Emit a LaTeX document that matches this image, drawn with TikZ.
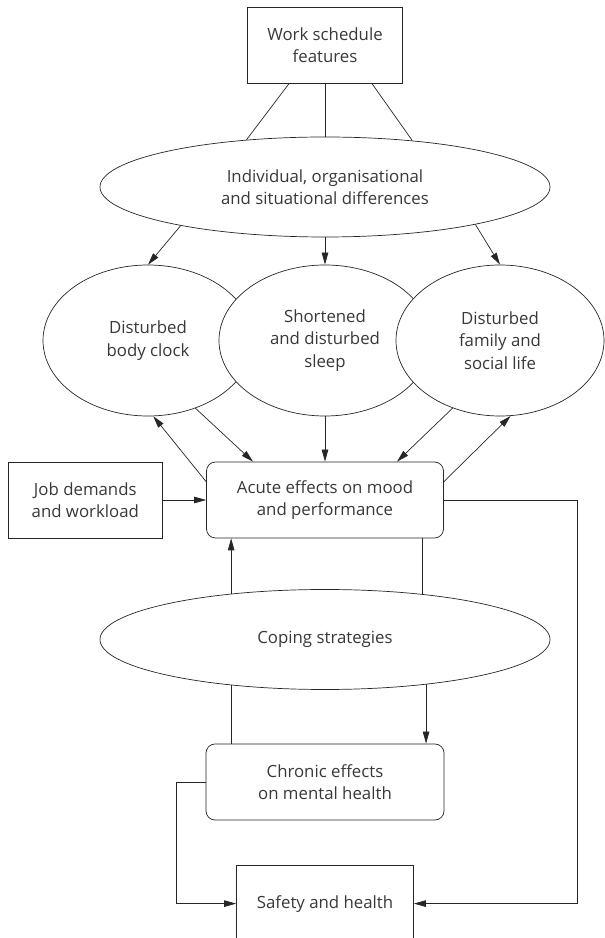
\documentclass[tikz,border=0pt]{standalone}
\usepackage{fontspec}
\setmainfont{Open Sans}
\usetikzlibrary{shapes.geometric,arrows.meta}

\begin{document}
\begin{tikzpicture}[x=1pt, y=1pt, line width=0.7pt, color=black!85,
    every node/.style={font=\fontsize{16.8}{22.5}\selectfont, text=black!78, align=center},
    box/.style={draw, minimum height=76pt, inner sep=0pt},
    rbox/.style={box, rounded corners=9pt},
    oval/.style={draw, ellipse, fill=white, inner sep=0pt},
    arr/.style={-{Triangle[length=12pt, width=6.5pt]}}]

    \useasboundingbox (0,0) rectangle (605,938);
    \clip (0,0) rectangle (605,938);  % the last box runs off the page

    % Top: schedule and the differences between people
    \node[box, minimum width=155pt] (work) at (325, 892.7) {Work schedule\\features};
    \node[oval, minimum width=450pt, minimum height=100pt] (diffs) at (325, 751)
        {Individual, organisational\\and situational differences};

    \draw ([xshift=-36pt]work.south) -- (diffs.149);
    \draw (work.south)               -- (diffs.north);
    \draw ([xshift=47pt]work.south)  -- (diffs.28);

    % The three overlapping ovals, left to right
    \node[oval, minimum width=210pt, minimum height=151pt] (clock) at (148, 597.5) {Disturbed\\body clock};
    \node[oval, minimum width=212pt, minimum height=151pt] (sleep) at (325, 597.5) {Shortened\\and disturbed\\sleep};
    \node[oval, minimum width=208pt, minimum height=151pt] (life)  at (500, 597.5) {Disturbed\\family and\\social life};

    \draw[arr] (diffs.195)   -- (clock.north);
    \draw[arr] (diffs.south) -- (sleep.north);
    \draw[arr] (diffs.346)   -- (life.north);

    % Acute effects and job demands
    \node[rbox, minimum width=237pt] (acute) at (325, 438) {Acute effects on mood\\and performance};
    \node[box, minimum width=154pt] (job) at (85.3, 438) {Job demands\\and workload};

    \draw[arr] ([yshift=18.3pt]acute.west) -- (clock.274);
    \draw[arr] (clock.305) -- ([xshift=-72pt]acute.north);
    \draw[arr] (sleep.south) -- (acute.north);
    \draw[arr] (life.235) -- ([xshift=72pt]acute.north);
    \draw[arr] ([yshift=18.3pt]acute.east) -- (life.278);
    \draw[arr] (job.east) -- (acute.west);

    % Coping strategies
    \node[oval, minimum width=450pt, minimum height=100pt] (coping) at (325, 298.5) {Coping strategies};

    \draw[arr] (coping.154) -- (coping.154 |- acute.south);
    \draw (acute.south -| coping.25) -- (coping.25);

    % Chronic effects and safety
    \node[rbox, minimum width=238pt] (chronic) at (325, 156) {Chronic effects\\on mental health};
    \node[box, minimum width=177pt] (safety) at (325, 34.4) {Safety and health};

    \draw (coping.206) -- (coping.206 |- chronic.north);
    \draw[arr] (coping.336) -- (coping.336 |- chronic.north);

    \draw[arr] (chronic.west) -- ++(-29,0) |- (safety.west);
    \draw[arr] (acute.east) -- ++(133.7,0) |- (safety.east);
\end{tikzpicture}
\end{document}
